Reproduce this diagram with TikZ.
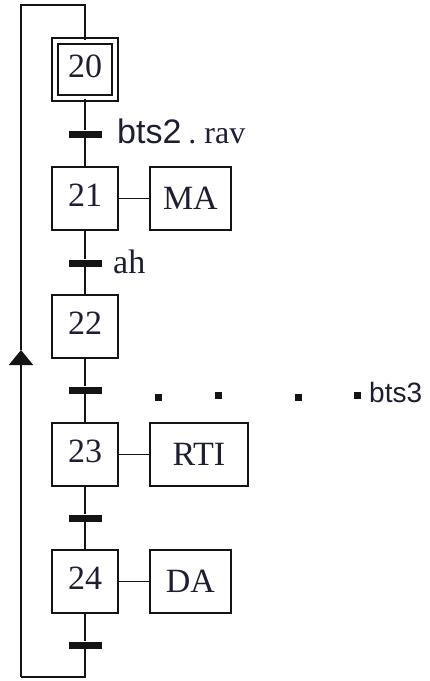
\documentclass[tikz,border=0pt]{standalone}
\usepackage{fontspec}
\setmainfont{Liberation Serif}
\newfontfamily\arialfont{Liberation Sans}
\usetikzlibrary{
  arrows.meta,
  positioning
}
\definecolor{linecolor}{RGB}{20, 20, 20}
\definecolor{labelcolor}{RGB}{30, 30, 50}
\tikzset{
steptext/.style={
  font=\fontsize{34}{34}\selectfont,
  text=labelcolor
},
stepbox/.style={
  draw=linecolor,
  line width=1.9pt,
  minimum width=66pt,
  minimum height=63pt,
  inner sep=0pt,
  text depth=7pt,
  steptext
},
initstep/.style={
  stepbox,
  double,
  double distance=3.4pt,
  minimum width=60pt,
  minimum height=57pt
},
actionbox/.style={
  draw=linecolor,
  line width=1.9pt,
  minimum height=63pt,
  inner sep=0pt,
  steptext
},
transbar/.style={
  fill=linecolor,
  minimum width=33pt,
  minimum height=7pt,
  inner sep=0pt
},
condlabel/.style={
  anchor=west,
  inner sep=0pt,
  steptext
},
link/.style={
  line width=1.9pt,
  draw=linecolor
}
}

\begin{document}
\begin{tikzpicture}[x=1pt, y=-1pt]
  \useasboundingbox (0,0) rectangle (430,681);
  % steps
  \node[initstep] (s20) at (85,69.5) {20};
  \node[stepbox] (s21) at (85,198.5) {21};
  \node[stepbox] (s22) at (85,326.5) {22};
  \node[stepbox] (s23) at (85,454.5) {23};
  \node[stepbox] (s24) at (85,581.5) {24};
  % actions
  \node[actionbox, minimum width=81pt, right=30pt of s21] (ma) {MA};
  \node[actionbox, minimum width=98pt, right=30pt of s23] (rti) {RTI};
  \node[actionbox, minimum width=81pt, right=30pt of s24] (da) {DA};
  % transitions
  \node[transbar] (t1) at (85,134) {};
  \node[transbar] (t2) at (85,263) {};
  \node[transbar] (t3) at (85,390) {};
  \node[transbar] (t4) at (85,518) {};
  \node[transbar] (t5) at (85,645) {};
  \node[condlabel] (c1) at (117,131) {{\arialfont bts2}{\fontsize{32}{32}\selectfont\hspace{7pt}.\hspace{8pt}rav}};
  \node[condlabel] (c2) at (113,262) {ah};
  \node[condlabel, font=\arialfont\fontsize{28}{28}\selectfont] (c3) at (369,392) {bts3};
  \foreach \dx/\dy in {158/397, 218/395, 298/397, 357/395}
    \fill[linecolor] (\dx-3.5,\dy-3.5) rectangle (\dx+3.5,\dy+3.5);
  % loop corners
  \coordinate (lb) at (85,677);
  \coordinate (lbl) at (21,677);
  \coordinate (mid) at (21,350);
  \coordinate (ltl) at (21,5);
  \coordinate (ltr) at (85,5);
  % links
  \draw[link] (s20) -- (t1) -- (s21) -- (t2) -- (s22) -- (t3) -- (s23) -- (t4) -- (s24) -- (t5) -- (lb) -- (lbl);
  \draw[link, -{Triangle[length=15pt,width=24pt]}] (lbl) -- (mid);
  \draw[link] (mid) -- (ltl) -- (ltr) -- (s20);
  \draw[link] (s21) -- (ma);
  \draw[link] (s23) -- (rti);
  \draw[link] (s24) -- (da);
\end{tikzpicture}
\end{document}
